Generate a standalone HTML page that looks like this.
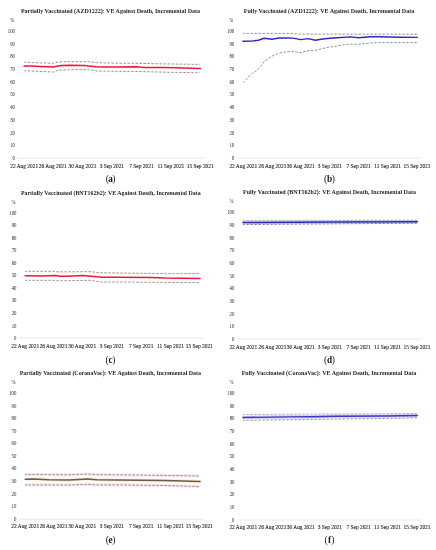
<!DOCTYPE html>
<html><head><meta charset="utf-8"><title>VE Against Death, Incremental Data</title>
<style>
html,body{margin:0;padding:0;background:#fff;}
body{width:436px;height:550px;overflow:hidden;}
svg{display:block;will-change:transform;filter:blur(0.3px);}
text{font-family:"Liberation Serif",serif;}
.t{font-size:6.6px;font-weight:bold;fill:#262626;}
.y{font-size:5.7px;fill:#1e1e1e;}
.x{font-size:5.4px;fill:#1e1e1e;stroke:#333;stroke-width:0.12px;}
.c{font-size:9.3px;font-weight:bold;fill:#1a1a1a;}
.cp{font-size:9.6px;fill:#1a1a1a;}
</style></head><body>
<svg width="436" height="550" viewBox="0 0 436 550">
<rect width="436" height="550" fill="#fff"/>
<text x="20.9" y="12.7" class="t" textLength="179.1" lengthAdjust="spacingAndGlyphs">Partially Vaccinated (AZD1222): VE Against Death, Incremental Data</text>
<text transform="translate(14.1 21.8) scale(0.84 1)" class="y" text-anchor="end">%</text>
<text transform="translate(15 160.05) scale(0.84 1)" class="y" text-anchor="end">0</text>
<text transform="translate(15 147.33) scale(0.84 1)" class="y" text-anchor="end">10</text>
<text transform="translate(15 134.61) scale(0.84 1)" class="y" text-anchor="end">20</text>
<text transform="translate(15 121.89) scale(0.84 1)" class="y" text-anchor="end">30</text>
<text transform="translate(15 109.17) scale(0.84 1)" class="y" text-anchor="end">40</text>
<text transform="translate(15 96.45) scale(0.84 1)" class="y" text-anchor="end">50</text>
<text transform="translate(15 83.73) scale(0.84 1)" class="y" text-anchor="end">60</text>
<text transform="translate(15 71.01) scale(0.84 1)" class="y" text-anchor="end">70</text>
<text transform="translate(15 58.29) scale(0.84 1)" class="y" text-anchor="end">80</text>
<text transform="translate(15 45.57) scale(0.84 1)" class="y" text-anchor="end">90</text>
<text transform="translate(15 32.85) scale(0.84 1)" class="y" text-anchor="end">100</text>
<line x1="17.6" y1="158.1" x2="205" y2="158.1" stroke="#e2e2e2" stroke-width="0.8"/>
<text x="24.2" y="167.8" class="x" text-anchor="middle">22 Aug 2021</text>
<text x="52.8" y="167.8" class="x" text-anchor="middle">26 Aug 2021</text>
<text x="82.45" y="167.8" class="x" text-anchor="middle">30 Aug 2021</text>
<text x="111.9" y="167.8" class="x" text-anchor="middle">3 Sep 2021</text>
<text x="141.45" y="167.8" class="x" text-anchor="middle">7 Sep 2021</text>
<text x="170.95" y="167.8" class="x" text-anchor="middle">11 Sep 2021</text>
<text x="200.2" y="167.8" class="x" text-anchor="middle">15 Sep 2021</text>
<polyline points="24.3,62.1 37.2,62.8 53.3,63.3 57.8,62.1 69.3,61.7 88.6,61.7 96.7,62.7 117,63.2 135,63.3 165,63.9 200,64.4" fill="none" stroke="#8e8e8e" stroke-width="0.95" stroke-dasharray="2.5 1.5" stroke-dashoffset="0.6"/>
<polyline points="24.3,70.8 37.2,71.3 53.3,72 57.8,70.3 69.3,69.7 88.6,69.7 96.7,71 117,71.3 135,71.4 165,72.2 200,72.8" fill="none" stroke="#8e8e8e" stroke-width="0.95" stroke-dasharray="2.5 1.5" stroke-dashoffset="0.6"/>
<polyline points="24,66.1 31.5,66.1 39.5,66.5 47.5,66.8 53.3,67 56.7,66.2 61.3,65.5 69.3,65.3 85.2,65.6 88.6,65.9 96.7,66.8 102.4,67 117.3,67 135.5,66.8 144.7,67.4 165.3,67.6 200.7,68.5" fill="none" stroke="#f01540" stroke-width="1.5" stroke-linejoin="round" stroke-linecap="round"/>
<text x="105.7" y="181.5" class="cp">(</text>
<text x="115.5" y="181.5" class="cp" text-anchor="end">)</text>
<text x="110.6" y="181.5" class="c" text-anchor="middle">a</text>
<text x="243.8" y="12.8" class="t" textLength="170.4" lengthAdjust="spacingAndGlyphs">Fully Vaccinated (AZD1222): VE Against Death, Incremental Data</text>
<text transform="translate(233.3 21.8) scale(0.84 1)" class="y" text-anchor="end">%</text>
<text transform="translate(234.2 160.05) scale(0.84 1)" class="y" text-anchor="end">0</text>
<text transform="translate(234.2 147.33) scale(0.84 1)" class="y" text-anchor="end">10</text>
<text transform="translate(234.2 134.61) scale(0.84 1)" class="y" text-anchor="end">20</text>
<text transform="translate(234.2 121.89) scale(0.84 1)" class="y" text-anchor="end">30</text>
<text transform="translate(234.2 109.17) scale(0.84 1)" class="y" text-anchor="end">40</text>
<text transform="translate(234.2 96.45) scale(0.84 1)" class="y" text-anchor="end">50</text>
<text transform="translate(234.2 83.73) scale(0.84 1)" class="y" text-anchor="end">60</text>
<text transform="translate(234.2 71.01) scale(0.84 1)" class="y" text-anchor="end">70</text>
<text transform="translate(234.2 58.29) scale(0.84 1)" class="y" text-anchor="end">80</text>
<text transform="translate(234.2 45.57) scale(0.84 1)" class="y" text-anchor="end">90</text>
<text transform="translate(234.2 32.85) scale(0.84 1)" class="y" text-anchor="end">100</text>
<line x1="236.6" y1="158.1" x2="421" y2="158.1" stroke="#e2e2e2" stroke-width="0.8"/>
<text x="243.35" y="167.8" class="x" text-anchor="middle">22 Aug 2021</text>
<text x="272.4" y="167.8" class="x" text-anchor="middle">26 Aug 2021</text>
<text x="300.75" y="167.8" class="x" text-anchor="middle">30 Aug 2021</text>
<text x="329.85" y="167.8" class="x" text-anchor="middle">3 Sep 2021</text>
<text x="358.6" y="167.8" class="x" text-anchor="middle">7 Sep 2021</text>
<text x="387.6" y="167.8" class="x" text-anchor="middle">11 Sep 2021</text>
<text x="417" y="167.8" class="x" text-anchor="middle">15 Sep 2021</text>
<polyline points="243,33.4 290,33.4 300,34.1 417,34.2" fill="none" stroke="#8e8e8e" stroke-width="0.95" stroke-dasharray="2.5 1.5" stroke-dashoffset="0.6"/>
<polyline points="243.4,82.4 246.9,78.8 249.7,75.4 252.6,73.1 256,71.1 258.9,68.5 261.8,65.1 264.1,61.6 267,59.3 270.4,57 274.4,55.1 277.8,53.6 281.3,52.7 285.9,51.9 291.9,51.4 296.5,52 301.6,52.8 305.6,51.1 310.2,50.5 316,50.3 321.7,48.8 328.6,47.3 336.9,46 343.8,44.8 350.6,44 357.5,44.4 364.4,43.5 371.3,42.9 379.3,42.6 417,42.6" fill="none" stroke="#8e8e8e" stroke-width="0.95" stroke-dasharray="2.5 1.5" stroke-dashoffset="0.6"/>
<polyline points="242.9,41.2 251.5,41.1 258.3,40.3 264.1,38.3 272.1,39.2 279,38 285,37.9 293,38.1 300.8,39.6 308,38.6 315.4,40.2 322.8,39 330,38.3 336.9,37.7 350.6,36.9 358.7,37.7 370.1,36.8 379.3,36.8 400,37.2 417.3,37.4" fill="none" stroke="#2c2cbc" stroke-width="1.45" stroke-linejoin="round" stroke-linecap="round"/>
<text x="324" y="181.5" class="cp">(</text>
<text x="335" y="181.5" class="cp" text-anchor="end">)</text>
<text x="329.5" y="181.5" class="c" text-anchor="middle">b</text>
<text x="20.9" y="194.6" class="t" textLength="179.7" lengthAdjust="spacingAndGlyphs">Partially Vaccinated (BNT162b2): VE Against Death, Incremental Data</text>
<text transform="translate(15.6 203.5) scale(0.84 1)" class="y" text-anchor="end">%</text>
<text transform="translate(16.5 340.05) scale(0.84 1)" class="y" text-anchor="end">0</text>
<text transform="translate(16.5 327.53) scale(0.84 1)" class="y" text-anchor="end">10</text>
<text transform="translate(16.5 315.01) scale(0.84 1)" class="y" text-anchor="end">20</text>
<text transform="translate(16.5 302.49) scale(0.84 1)" class="y" text-anchor="end">30</text>
<text transform="translate(16.5 289.97) scale(0.84 1)" class="y" text-anchor="end">40</text>
<text transform="translate(16.5 277.45) scale(0.84 1)" class="y" text-anchor="end">50</text>
<text transform="translate(16.5 264.93) scale(0.84 1)" class="y" text-anchor="end">60</text>
<text transform="translate(16.5 252.41) scale(0.84 1)" class="y" text-anchor="end">70</text>
<text transform="translate(16.5 239.89) scale(0.84 1)" class="y" text-anchor="end">80</text>
<text transform="translate(16.5 227.37) scale(0.84 1)" class="y" text-anchor="end">90</text>
<text transform="translate(16.5 214.85) scale(0.84 1)" class="y" text-anchor="end">100</text>
<line x1="19" y1="338" x2="204" y2="338" stroke="#e2e2e2" stroke-width="0.8"/>
<text x="25.25" y="348.2" class="x" text-anchor="middle">22 Aug 2021</text>
<text x="53.6" y="348.2" class="x" text-anchor="middle">26 Aug 2021</text>
<text x="82.3" y="348.2" class="x" text-anchor="middle">30 Aug 2021</text>
<text x="111.9" y="348.2" class="x" text-anchor="middle">3 Sep 2021</text>
<text x="141.2" y="348.2" class="x" text-anchor="middle">7 Sep 2021</text>
<text x="170.5" y="348.2" class="x" text-anchor="middle">11 Sep 2021</text>
<text x="199.3" y="348.2" class="x" text-anchor="middle">15 Sep 2021</text>
<polyline points="25,271.3 55,271.3 58,271.9 90.9,271.7 100,272.8 117,273 165,273.6 199,273.6" fill="none" stroke="#8e8e8e" stroke-width="0.95" stroke-dasharray="2.5 1.5" stroke-dashoffset="0.6"/>
<polyline points="25,280.3 55,280.3 58,280.8 90.9,280.3 100,282 117,282 165,282.4 199,282.5" fill="none" stroke="#8e8e8e" stroke-width="0.95" stroke-dasharray="2.5 1.5" stroke-dashoffset="0.6"/>
<polyline points="25.2,275.7 42.9,275.9 55.6,275.6 60.1,276.2 68,276.2 82.9,275.5 88.6,275.9 96.7,276.8 102.4,277.2 117.3,277.2 150.4,277.4 165.3,278 200.1,278.4" fill="none" stroke="#f01540" stroke-width="1.5" stroke-linejoin="round" stroke-linecap="round"/>
<text x="105.6" y="362.9" class="cp">(</text>
<text x="115.4" y="362.9" class="cp" text-anchor="end">)</text>
<text x="110.5" y="362.9" class="c" text-anchor="middle">c</text>
<text x="243" y="193.6" class="t" textLength="172.9" lengthAdjust="spacingAndGlyphs">Fully Vaccinated (BNT162b2): VE Against Death, Incremental Data</text>
<text transform="translate(233.5 202.5) scale(0.84 1)" class="y" text-anchor="end">%</text>
<text transform="translate(234.4 340.95) scale(0.84 1)" class="y" text-anchor="end">0</text>
<text transform="translate(234.4 328.28) scale(0.84 1)" class="y" text-anchor="end">10</text>
<text transform="translate(234.4 315.61) scale(0.84 1)" class="y" text-anchor="end">20</text>
<text transform="translate(234.4 302.94) scale(0.84 1)" class="y" text-anchor="end">30</text>
<text transform="translate(234.4 290.27) scale(0.84 1)" class="y" text-anchor="end">40</text>
<text transform="translate(234.4 277.6) scale(0.84 1)" class="y" text-anchor="end">50</text>
<text transform="translate(234.4 264.93) scale(0.84 1)" class="y" text-anchor="end">60</text>
<text transform="translate(234.4 252.26) scale(0.84 1)" class="y" text-anchor="end">70</text>
<text transform="translate(234.4 239.59) scale(0.84 1)" class="y" text-anchor="end">80</text>
<text transform="translate(234.4 226.92) scale(0.84 1)" class="y" text-anchor="end">90</text>
<text transform="translate(234.4 214.25) scale(0.84 1)" class="y" text-anchor="end">100</text>
<line x1="237" y1="339" x2="421" y2="339" stroke="#e2e2e2" stroke-width="0.8"/>
<text x="243.35" y="348.5" class="x" text-anchor="middle">22 Aug 2021</text>
<text x="272.4" y="348.5" class="x" text-anchor="middle">26 Aug 2021</text>
<text x="300.75" y="348.5" class="x" text-anchor="middle">30 Aug 2021</text>
<text x="329.85" y="348.5" class="x" text-anchor="middle">3 Sep 2021</text>
<text x="358.6" y="348.5" class="x" text-anchor="middle">7 Sep 2021</text>
<text x="387.6" y="348.5" class="x" text-anchor="middle">11 Sep 2021</text>
<text x="417" y="348.5" class="x" text-anchor="middle">15 Sep 2021</text>
<polyline points="242.9,222.6 336,222 417.3,221.7" fill="none" stroke="#d0d0f4" stroke-width="3.6"/>
<polyline points="243,220.5 417,220.1" fill="none" stroke="#b4aeb0" stroke-width="0.95" stroke-dasharray="2.5 1.5" stroke-dashoffset="0.6"/>
<polyline points="243,224.6 417,223.2" fill="none" stroke="#7c7ca4" stroke-width="0.95" stroke-dasharray="2.5 1.5" stroke-dashoffset="0.6"/>
<polyline points="242.9,222.6 336,222 417.3,221.7" fill="none" stroke="#2a2ab8" stroke-width="1.5" stroke-linejoin="round" stroke-linecap="round"/>
<text x="324" y="363" class="cp">(</text>
<text x="335" y="363" class="cp" text-anchor="end">)</text>
<text x="329.5" y="363" class="c" text-anchor="middle">d</text>
<text x="19.7" y="375" class="t" textLength="181.3" lengthAdjust="spacingAndGlyphs">Partially Vaccinated (CoronaVac): VE Against Death, Incremental Data</text>
<text transform="translate(15.4 383.8) scale(0.84 1)" class="y" text-anchor="end">%</text>
<text transform="translate(16.3 520.85) scale(0.84 1)" class="y" text-anchor="end">0</text>
<text transform="translate(16.3 508.26) scale(0.84 1)" class="y" text-anchor="end">10</text>
<text transform="translate(16.3 495.67) scale(0.84 1)" class="y" text-anchor="end">20</text>
<text transform="translate(16.3 483.08) scale(0.84 1)" class="y" text-anchor="end">30</text>
<text transform="translate(16.3 470.49) scale(0.84 1)" class="y" text-anchor="end">40</text>
<text transform="translate(16.3 457.9) scale(0.84 1)" class="y" text-anchor="end">50</text>
<text transform="translate(16.3 445.31) scale(0.84 1)" class="y" text-anchor="end">60</text>
<text transform="translate(16.3 432.72) scale(0.84 1)" class="y" text-anchor="end">70</text>
<text transform="translate(16.3 420.13) scale(0.84 1)" class="y" text-anchor="end">80</text>
<text transform="translate(16.3 407.54) scale(0.84 1)" class="y" text-anchor="end">90</text>
<text transform="translate(16.3 394.95) scale(0.84 1)" class="y" text-anchor="end">100</text>
<line x1="19" y1="519.3" x2="204" y2="519.3" stroke="#e2e2e2" stroke-width="0.8"/>
<text x="25.25" y="528.2" class="x" text-anchor="middle">22 Aug 2021</text>
<text x="53.6" y="528.2" class="x" text-anchor="middle">26 Aug 2021</text>
<text x="82.3" y="528.2" class="x" text-anchor="middle">30 Aug 2021</text>
<text x="111.9" y="528.2" class="x" text-anchor="middle">3 Sep 2021</text>
<text x="141.2" y="528.2" class="x" text-anchor="middle">7 Sep 2021</text>
<text x="170.5" y="528.2" class="x" text-anchor="middle">11 Sep 2021</text>
<text x="199.3" y="528.2" class="x" text-anchor="middle">15 Sep 2021</text>
<polyline points="25,474.4 69,474.8 87.5,474 96.7,474.6 117,474.8 165,475.4 199,476" fill="none" stroke="#fbe4ee" stroke-width="3.2"/>
<polyline points="25,484.9 69,485 87.5,484.3 96.7,484.9 117,484.9 165,485.5 199,486.5" fill="none" stroke="#fbe4ee" stroke-width="3.2"/>
<polyline points="25.2,479.2 33.8,478.9 48.7,479.7 69.3,480.1 87.5,478.9 96.7,479.7 117.3,480.1 165,480.4 200.1,481.5" fill="none" stroke="#f6eed8" stroke-width="3.4"/>
<polyline points="25,474.4 69,474.8 87.5,474 96.7,474.6 117,474.8 165,475.4 199,476" fill="none" stroke="#9b8a96" stroke-width="0.95" stroke-dasharray="2.5 1.5" stroke-dashoffset="0.6"/>
<polyline points="25,484.9 69,485 87.5,484.3 96.7,484.9 117,484.9 165,485.5 199,486.5" fill="none" stroke="#9b8a96" stroke-width="0.95" stroke-dasharray="2.5 1.5" stroke-dashoffset="0.6"/>
<polyline points="25.2,479.2 33.8,478.9 48.7,479.7 69.3,480.1 87.5,478.9 96.7,479.7 117.3,480.1 165,480.4 200.1,481.5" fill="none" stroke="#6f5b42" stroke-width="1.5" stroke-linejoin="round" stroke-linecap="round"/>
<text x="105.7" y="543.3" class="cp">(</text>
<text x="115.5" y="543.3" class="cp" text-anchor="end">)</text>
<text x="110.6" y="543.3" class="c" text-anchor="middle">e</text>
<text x="241.7" y="374.6" class="t" textLength="174.6" lengthAdjust="spacingAndGlyphs">Fully Vaccinated (CoronaVac): VE Against Death, Incremental Data</text>
<text transform="translate(233.6 383.7) scale(0.84 1)" class="y" text-anchor="end">%</text>
<text transform="translate(234.5 521.75) scale(0.84 1)" class="y" text-anchor="end">0</text>
<text transform="translate(234.5 509.06) scale(0.84 1)" class="y" text-anchor="end">10</text>
<text transform="translate(234.5 496.37) scale(0.84 1)" class="y" text-anchor="end">20</text>
<text transform="translate(234.5 483.68) scale(0.84 1)" class="y" text-anchor="end">30</text>
<text transform="translate(234.5 470.99) scale(0.84 1)" class="y" text-anchor="end">40</text>
<text transform="translate(234.5 458.3) scale(0.84 1)" class="y" text-anchor="end">50</text>
<text transform="translate(234.5 445.61) scale(0.84 1)" class="y" text-anchor="end">60</text>
<text transform="translate(234.5 432.92) scale(0.84 1)" class="y" text-anchor="end">70</text>
<text transform="translate(234.5 420.23) scale(0.84 1)" class="y" text-anchor="end">80</text>
<text transform="translate(234.5 407.54) scale(0.84 1)" class="y" text-anchor="end">90</text>
<text transform="translate(234.5 394.85) scale(0.84 1)" class="y" text-anchor="end">100</text>
<line x1="236.6" y1="520" x2="421" y2="520" stroke="#e2e2e2" stroke-width="0.8"/>
<text x="243.35" y="528.9" class="x" text-anchor="middle">22 Aug 2021</text>
<text x="272.4" y="528.9" class="x" text-anchor="middle">26 Aug 2021</text>
<text x="300.75" y="528.9" class="x" text-anchor="middle">30 Aug 2021</text>
<text x="329.85" y="528.9" class="x" text-anchor="middle">3 Sep 2021</text>
<text x="358.6" y="528.9" class="x" text-anchor="middle">7 Sep 2021</text>
<text x="387.6" y="528.9" class="x" text-anchor="middle">11 Sep 2021</text>
<text x="417" y="528.9" class="x" text-anchor="middle">15 Sep 2021</text>
<polyline points="242.9,417.5 289,416.9 311,416.8 336,416.3 386,416 417.3,415.5" fill="none" stroke="#d8d4f6" stroke-width="3.6"/>
<polyline points="243,414.6 289,414.2 336,414 386,413.8 417,413.5" fill="none" stroke="#a8a4b4" stroke-width="0.95" stroke-dasharray="2.5 1.5" stroke-dashoffset="0.6"/>
<polyline points="243,420.3 289,419.8 336,419 386,418.5 417,417.8" fill="none" stroke="#8c8aa8" stroke-width="0.95" stroke-dasharray="2.5 1.5" stroke-dashoffset="0.6"/>
<polyline points="242.9,417.5 289,416.9 311,416.8 336,416.3 386,416 417.3,415.5" fill="none" stroke="#3c34c4" stroke-width="1.45" stroke-linejoin="round" stroke-linecap="round"/>
<text x="324.6" y="543.4" class="cp">(</text>
<text x="334.4" y="543.4" class="cp" text-anchor="end">)</text>
<text x="329.5" y="543.4" class="c" text-anchor="middle">f</text>
</svg>
</body></html>
